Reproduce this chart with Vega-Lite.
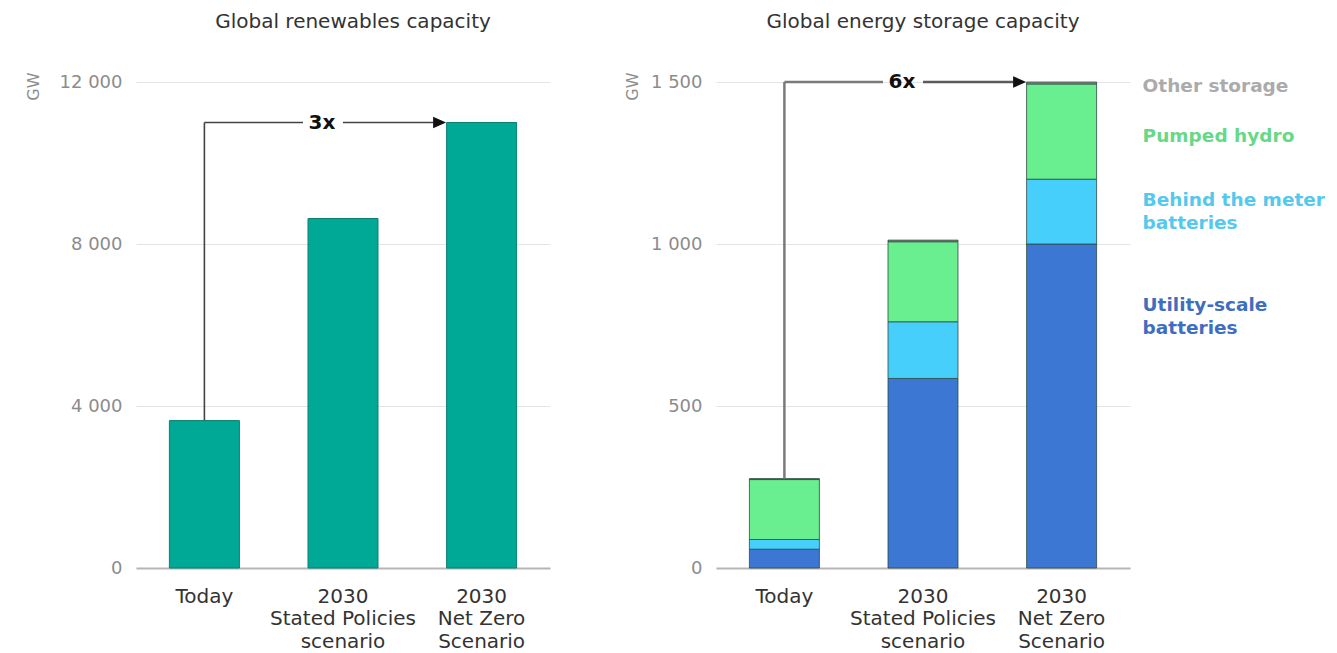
{
  "$schema": "https://vega.github.io/schema/vega-lite/v6.json",
  "background": "white",
  "padding": {"left": 25, "top": 12, "right": 0, "bottom": 0},
  "config": {
    "font": "DejaVu Sans",
    "view": {"stroke": null},
    "concat": {"spacing": 74},
    "title": {"fontSize": 20, "fontWeight": "normal", "color": "#333333", "anchor": "middle", "offset": 40},
    "axisY": {
      "domain": false, "ticks": false, "grid": true, "gridColor": "#e4e4e4", "gridWidth": 1,
      "labelColor": "#8c8c8c", "labelFontSize": 18, "labelPadding": 14,
      "titleColor": "#8c8c8c", "titleFontSize": 16, "titleFontWeight": "normal",
      "titleAlign": "right", "titleBaseline": "middle", "titleAngle": 270, "titleY": -10,
      "labelExpr": "replace(format(datum.value, ','), ',', ' ')"
    },
    "axisX": {
      "domain": true, "domainColor": "#b5b5b5", "domainWidth": 2, "ticks": false, "grid": false,
      "labelAngle": 0, "labelColor": "#333333", "labelFontSize": 20, "labelLineHeight": 22.5, "labelPadding": 18,
      "labelExpr": "datum.value == 'Today' ? 'Today' : datum.value == 'STEPS' ? ['2030', 'Stated Policies', 'scenario'] : ['2030', 'Net Zero', 'Scenario']"
    }
  },
  "datasets": {
    "renewables": [
      {"scenario": "Today", "gw": 3640},
      {"scenario": "STEPS", "gw": 8630},
      {"scenario": "NZE", "gw": 11000}
    ],
    "storage": [
      {"scenario": "Today", "series": "Utility-scale batteries", "ord": 1, "gw": 58},
      {"scenario": "Today", "series": "Behind the meter batteries", "ord": 2, "gw": 30},
      {"scenario": "Today", "series": "Pumped hydro", "ord": 3, "gw": 185},
      {"scenario": "Today", "series": "Other storage", "ord": 4, "gw": 3},
      {"scenario": "STEPS", "series": "Utility-scale batteries", "ord": 1, "gw": 585},
      {"scenario": "STEPS", "series": "Behind the meter batteries", "ord": 2, "gw": 175},
      {"scenario": "STEPS", "series": "Pumped hydro", "ord": 3, "gw": 247},
      {"scenario": "STEPS", "series": "Other storage", "ord": 4, "gw": 5},
      {"scenario": "NZE", "series": "Utility-scale batteries", "ord": 1, "gw": 1000},
      {"scenario": "NZE", "series": "Behind the meter batteries", "ord": 2, "gw": 200},
      {"scenario": "NZE", "series": "Pumped hydro", "ord": 3, "gw": 294},
      {"scenario": "NZE", "series": "Other storage", "ord": 4, "gw": 6}
    ],
    "arrows": [
      {"panel": "renewables", "start": "Today", "mid": "STEPS", "end": "NZE", "base": 3640, "level": 11000, "label": "3x"},
      {"panel": "storage", "start": "Today", "mid": "STEPS", "end": "NZE", "base": 276, "level": 1500, "label": "6x"}
    ],
    "storageLabels": [
      {"scenario": "NZE", "series": "Other storage", "text": "Other storage", "labelGW": 1488},
      {"scenario": "NZE", "series": "Pumped hydro", "text": "Pumped hydro", "labelGW": 1333},
      {"scenario": "NZE", "series": "Behind the meter batteries", "text": "Behind the meter\nbatteries", "labelGW": 1136},
      {"scenario": "NZE", "series": "Utility-scale batteries", "text": "Utility-scale\nbatteries", "labelGW": 812}
    ]
  },
  "hconcat": [
    {
      "title": {"text": "Global renewables capacity", "dx": 10},
      "width": 414,
      "height": 486,
      "layer": [
        {
          "data": {"name": "renewables"},
          "mark": {"type": "bar", "color": "#00a896", "stroke": "#0b7f72", "strokeWidth": 1},
          "encoding": {
            "x": {"field": "scenario", "type": "nominal", "title": null,
                  "scale": {"domain": ["Today", "STEPS", "NZE"], "paddingInner": 0.495, "paddingOuter": 0.241}},
            "y": {"field": "gw", "type": "quantitative",
                  "scale": {"domain": [0, 12000], "nice": false},
                  "axis": {"values": [0, 4000, 8000, 12000], "title": "GW", "titleX": -103}}
          }
        },
        {
          "data": {"name": "arrows"},
          "transform": [{"filter": "datum.panel == 'renewables'"}],
          "layer": [
            {
              "mark": {"type": "rule", "color": "#444444", "strokeWidth": 1.6},
              "encoding": {
                "x": {"field": "start", "type": "nominal"},
                "y": {"field": "base", "type": "quantitative"},
                "y2": {"field": "level"}
              }
            },
            {
              "mark": {"type": "rule", "color": "#444444", "strokeWidth": 1.6, "x2Offset": -40},
              "encoding": {
                "x": {"field": "start", "type": "nominal"},
                "x2": {"field": "mid"},
                "y": {"field": "level", "type": "quantitative"}
              }
            },
            {
              "mark": {"type": "rule", "color": "#444444", "strokeWidth": 1.6, "x2Offset": -48},
              "encoding": {
                "x": {"field": "mid", "type": "nominal"},
                "x2": {"field": "end"},
                "y": {"field": "level", "type": "quantitative"}
              }
            },
            {
              "mark": {"type": "point", "shape": "M-1,-0.9L1,0L-1,0.9Z", "size": 169, "filled": true, "color": "#111111", "opacity": 1, "xOffset": -42},
              "encoding": {
                "x": {"field": "end", "type": "nominal"},
                "y": {"field": "level", "type": "quantitative"}
              }
            },
            {
              "mark": {"type": "text", "fontSize": 20, "fontWeight": "bold", "color": "#111111", "dx": -21, "align": "center", "baseline": "middle"},
              "encoding": {
                "x": {"field": "mid", "type": "nominal"},
                "y": {"field": "level", "type": "quantitative"},
                "text": {"field": "label"}
              }
            }
          ]
        }
      ]
    },
    {
      "title": {"text": "Global energy storage capacity"},
      "width": 414,
      "height": 486,
      "resolve": {"scale": {"color": "independent"}},
      "layer": [
        {
          "data": {"name": "storage"},
          "mark": {"type": "bar", "stroke": "#2f4a42", "strokeWidth": 0.8},
          "encoding": {
            "x": {"field": "scenario", "type": "nominal", "title": null,
                  "scale": {"domain": ["Today", "STEPS", "NZE"], "paddingInner": 0.495, "paddingOuter": 0.241}},
            "y": {"field": "gw", "type": "quantitative", "stack": "zero",
                  "scale": {"domain": [0, 1500], "nice": false},
                  "axis": {"values": [0, 500, 1000, 1500], "title": "GW", "titleX": -84}},
            "color": {"field": "series", "type": "nominal", "legend": null,
                      "scale": {"domain": ["Utility-scale batteries", "Behind the meter batteries", "Pumped hydro", "Other storage"],
                                "range": ["#3b77d3", "#47cffb", "#69ef8f", "#8f8f8f"]}},
            "order": {"field": "ord", "type": "quantitative"}
          }
        },
        {
          "data": {"name": "storageLabels"},
          "mark": {"type": "text", "align": "left", "baseline": "middle", "dx": 81, "fontSize": 18.5, "fontWeight": "bold", "lineBreak": "\n", "lineHeight": 23},
          "encoding": {
            "x": {"field": "scenario", "type": "nominal"},
            "y": {"field": "labelGW", "type": "quantitative"},
            "text": {"field": "text"},
            "color": {"field": "series", "type": "nominal", "legend": null,
                      "scale": {"domain": ["Utility-scale batteries", "Behind the meter batteries", "Pumped hydro", "Other storage"],
                                "range": ["#3f6dbf", "#55c8ee", "#67d888", "#ababab"]}}
          }
        },
        {
          "data": {"name": "arrows"},
          "transform": [{"filter": "datum.panel == 'storage'"}],
          "layer": [
            {
              "mark": {"type": "rule", "color": "#7a7a7a", "strokeWidth": 2.5},
              "encoding": {
                "x": {"field": "start", "type": "nominal"},
                "y": {"field": "base", "type": "quantitative"},
                "y2": {"field": "level"}
              }
            },
            {
              "mark": {"type": "rule", "color": "#7a7a7a", "strokeWidth": 2.5, "x2Offset": -40},
              "encoding": {
                "x": {"field": "start", "type": "nominal"},
                "x2": {"field": "mid"},
                "y": {"field": "level", "type": "quantitative"}
              }
            },
            {
              "mark": {"type": "rule", "color": "#5a5a5a", "strokeWidth": 2.5, "x2Offset": -48},
              "encoding": {
                "x": {"field": "mid", "type": "nominal"},
                "x2": {"field": "end"},
                "y": {"field": "level", "type": "quantitative"}
              }
            },
            {
              "mark": {"type": "point", "shape": "M-1,-0.9L1,0L-1,0.9Z", "size": 169, "filled": true, "color": "#111111", "opacity": 1, "xOffset": -42},
              "encoding": {
                "x": {"field": "end", "type": "nominal"},
                "y": {"field": "level", "type": "quantitative"}
              }
            },
            {
              "mark": {"type": "text", "fontSize": 20, "fontWeight": "bold", "color": "#111111", "dx": -21, "align": "center", "baseline": "middle"},
              "encoding": {
                "x": {"field": "mid", "type": "nominal"},
                "y": {"field": "level", "type": "quantitative"},
                "text": {"field": "label"}
              }
            }
          ]
        }
      ]
    }
  ]
}
